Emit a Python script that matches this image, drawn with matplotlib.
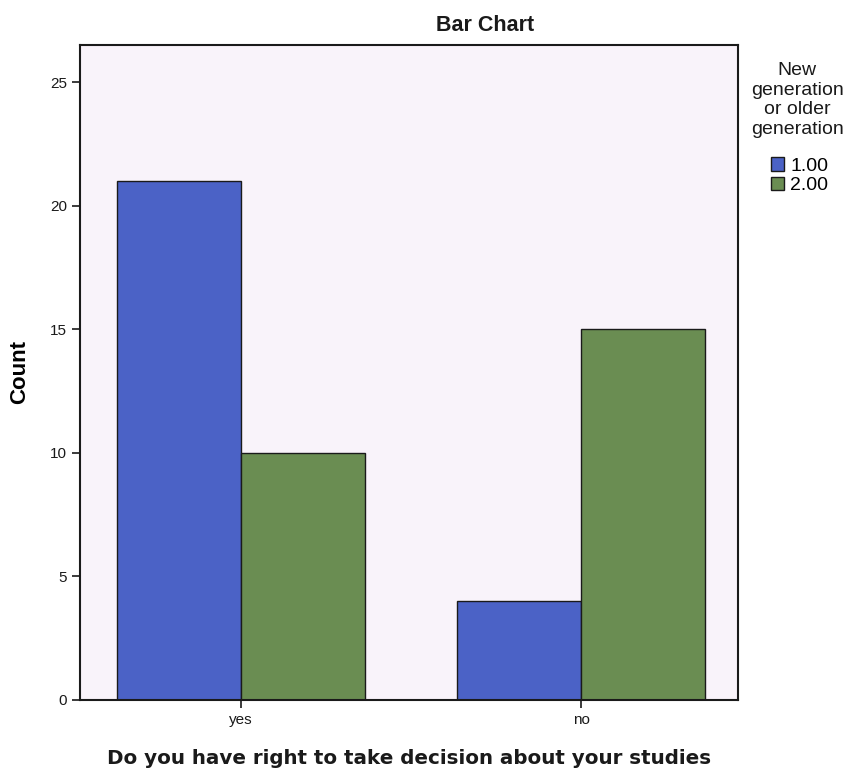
import numpy as np
import matplotlib
matplotlib.use("Agg")
import matplotlib.pyplot as plt

# Données
categories = ["yes", "no"]
series_names = ["1.00", "2.00"]
counts_new = [21, 4]     # 1.00
counts_old = [10, 15]    # 2.00
y_ticks = [0, 5, 10, 15, 20, 25]

blue = "#4b62c6"
green = "#6a8d52"
arial = "Liberation Sans"

fig = plt.figure(figsize=(8.47, 7.76), dpi=100)
ax = fig.add_axes([0.0945, 0.098, 0.777, 0.844])
ax.set_facecolor("#f9f3fa")

x = np.arange(len(categories))
w = 0.365
ax.bar(x - w / 2, counts_new, width=w, color=blue, edgecolor="#1a1a1a", linewidth=1.0, label=series_names[0])
ax.bar(x + w / 2, counts_old, width=w, color=green, edgecolor="#1a1a1a", linewidth=1.0, label=series_names[1])

ax.set_xlim(-0.474, 1.462)
ax.set_ylim(0, 26.5)
ax.set_xticks(x)
ax.set_xticklabels(categories, fontsize=11, family=arial)
ax.set_yticks(y_ticks)
ax.set_yticklabels([str(t) for t in y_ticks], fontsize=11, family=arial)
ax.tick_params(axis="both", length=6, width=1.2, direction="out", colors="#1a1a1a")
for s in ax.spines.values():
    s.set_linewidth(1.5)
    s.set_color("#1a1a1a")

ax.set_ylabel("Count", fontsize=16, fontweight="bold", labelpad=14, family=arial)
ax.set_xlabel("Do you have right to take decision about your studies",
              fontsize=14.3, fontweight="bold", labelpad=16, color="#1a1a1a")
fig.text(0.573, 0.967, "Bar Chart", ha="center", va="center",
         fontsize=15.5, fontweight="bold", color="#1a1a1a", family=arial)

# Légende
fig.text(0.941, 0.871, "New\ngeneration\nor older\ngeneration", ha="center", va="center",
         fontsize=14, linespacing=1.21, color="#1a1a1a", family=arial)
leg = fig.legend(loc="upper left", bbox_to_anchor=(0.899, 0.810), frameon=False,
                 prop={"family": arial, "size": 14}, handlelength=0.68, handleheight=0.68,
                 handletextpad=0.3, labelspacing=0.12, borderpad=0)

fig.savefig("out.png", dpi=100)
